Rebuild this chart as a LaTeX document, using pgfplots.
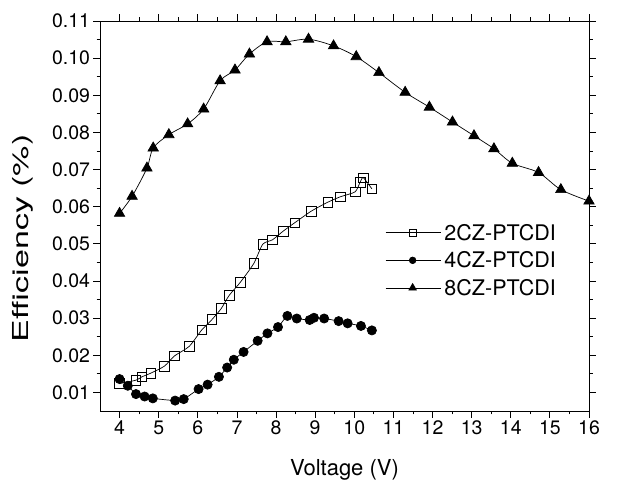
\documentclass[border=0pt]{standalone}
\usepackage{fontspec}
\setmainfont{TeX Gyre Heros}
\newfontfamily\stretchfont[FakeStretch=1.55]{TeX Gyre Heros}
\usepackage{pgfplots}
\pgfplotsset{compat=1.18}
\begin{document}
\begin{tikzpicture}[x=1pt,y=1pt]
\path[use as bounding box] (0,0) rectangle (642,484);
\begin{axis}[
  at={(100pt,73pt)}, anchor=south west,
  width=489pt, height=390pt, scale only axis,
  xmin=3.5, xmax=16, ymin=0.005, ymax=0.11,
  xtick={4,5,6,7,8,9,10,11,12,13,14,15,16},
  ytick={0.01,0.02,0.03,0.04,0.05,0.06,0.07,0.08,0.09,0.10,0.11},
  minor x tick num=1, minor y tick num=1,
  tick align=outside,
  major tick length=6.5pt, minor tick length=3.5pt,
  tick style={black, line width=0.8pt},
  axis line style={line width=0.9pt},
  /pgf/number format/assume math mode=true,
  scaled y ticks=false,
  yticklabel style={/pgf/number format/.cd, fixed, fixed zerofill, precision=2},
  ticklabel style={font=\fontsize{19.5}{21}\selectfont},
  xlabel={Voltage (V)}, ylabel={\stretchfont Efficiency (\%)},
  xlabel style={font=\fontsize{22}{24}\selectfont, at={(axis description cs:0.5,-0.151)}, anchor=center},
  ylabel style={font=\fontsize{22}{24}\selectfont, at={(axis description cs:-0.157,0.443)}, anchor=center},
  legend style={at={(axis description cs:0.583,0.48)}, anchor=north west,
    draw=none, fill=none, font=\fontsize{21.5}{23}\selectfont,
    row sep=10pt, inner sep=0pt, nodes={inner xsep=3.5pt, inner ysep=0pt}},
  legend cell align=left,
  legend image code/.code={\draw[mark repeat=2,mark phase=2,#1, every mark/.append style={scale=0.72}] plot coordinates {(0pt,0pt) (27pt,0pt) (55pt,0pt)};},
]
\addplot[black, line width=0.7pt, smooth, tension=0.4, mark=square, mark size=4.8pt,
  mark options={fill=white, solid, line width=0.7pt}] coordinates {
(4.00,0.0124) (4.42,0.0133) (4.57,0.0142) (4.80,0.0152) (5.15,0.0171)
(5.40,0.0198) (5.78,0.0224) (6.10,0.0268) (6.36,0.0296) (6.60,0.0326)
(6.80,0.0361) (7.09,0.0397) (7.43,0.0447) (7.66,0.0499) (7.91,0.0511)
(8.18,0.0534) (8.48,0.0557) (8.90,0.0588) (9.32,0.0612) (9.65,0.0627)
(10.02,0.0640) (10.15,0.0666) (10.23,0.0678) (10.45,0.0648)
};
\addlegendentry{2CZ-PTCDI}
\addplot[black, line width=0.7pt, smooth, tension=0.4, mark=*, mark size=4.6pt,
  mark options={fill=black, solid}] coordinates {
(4.00,0.0136) (4.21,0.0118) (4.42,0.00955) (4.64,0.0089) (4.85,0.0084)
(5.42,0.0078) (5.64,0.0082) (6.02,0.0109) (6.25,0.0121) (6.54,0.0142)
(6.75,0.0167) (6.92,0.0188) (7.17,0.0209) (7.53,0.0239) (7.78,0.0259)
(8.05,0.0276) (8.29,0.0306) (8.53,0.0299) (8.86,0.0295) (8.97,0.0301)
(9.23,0.0299) (9.60,0.0292) (9.83,0.0286) (10.17,0.0279) (10.45,0.0267)
};
\addlegendentry{4CZ-PTCDI}
\addplot[black, line width=0.7pt, smooth, tension=0.5, mark=triangle*, mark size=6pt,
  mark options={fill=black, solid}] coordinates {
(4.00,0.0582) (4.32,0.0628) (4.70,0.0704) (4.86,0.0758) (5.26,0.0794)
(5.74,0.0823) (6.15,0.0863) (6.57,0.0939) (6.95,0.0968) (7.32,0.1011)
(7.77,0.1044) (8.25,0.1044) (8.83,0.1051) (9.47,0.1033) (10.05,0.1004)
(10.63,0.0961) (11.30,0.0908) (11.92,0.0868) (12.51,0.0828) (13.06,0.0791)
(13.57,0.0756) (14.04,0.0717) (14.71,0.0692) (15.28,0.0646) (16.00,0.0615)
};
\addlegendentry{8CZ-PTCDI}
\end{axis}
\end{tikzpicture}
\end{document}
